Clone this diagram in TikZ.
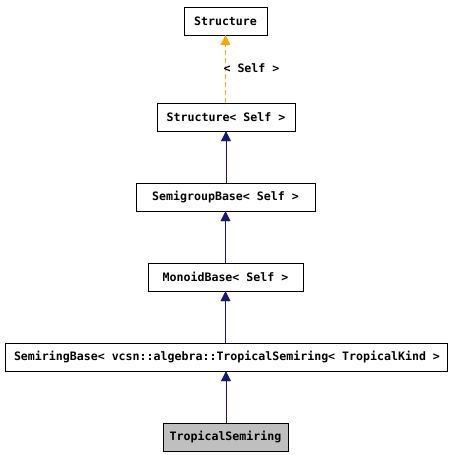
\documentclass[tikz,border=0pt]{standalone}
\usepackage{fontspec}
\setmonofont{DejaVu Sans Mono}
\usetikzlibrary{arrows.meta}
\definecolor{navy}{HTML}{191970}
\definecolor{inherit}{HTML}{FFA500}
\begin{document}
\begin{tikzpicture}[
  x=1pt, y=-1pt,
  cls/.style={draw, thin, minimum height=28pt, inner sep=0pt,
    font=\fontsize{11.6}{13}\selectfont\ttfamily\bfseries},
  isa/.style={draw=navy, thin, -{Triangle[length=10pt, width=10pt]}},
  tpl/.style={draw=inherit, line width=0.7pt, dash pattern=on 5pt off 3pt,
    -{Triangle[length=10pt, width=10pt]}},
  lbl/.style={font=\fontsize{11.6}{13}\selectfont\ttfamily\bfseries}
]
\useasboundingbox (0, 0) rectangle (450, 455);
\node[cls, minimum width=83pt] (struct) at (225.5, 21) {Structure};
\node[cls, minimum width=138pt] (structself) at (226, 117) {Structure< Self >};
\node[cls, minimum width=179pt] (semigroup) at (225.5, 197) {SemigroupBase< Self >};
\node[cls, minimum width=155pt] (monoid) at (225.5, 277) {MonoidBase< Self >};
\node[cls, minimum width=442pt] (semiring) at (226, 357) {};
\begin{scope}
  \clip (semiring.south west) rectangle (semiring.north east);
  \node[lbl, anchor=west, inner sep=0pt] (semiringtext) at ([xshift=9pt]semiring.west)
    {SemiringBase< vcsn::algebra::TropicalSemiring< TropicalKind > >};
\end{scope}
\node[cls, fill=black!25, minimum width=125pt] (tropical) at (225.5, 437) {TropicalSemiring};
\draw[tpl] (structself.north -| struct.south) -- (struct.south);
\node[lbl, anchor=west] (selfarg) at (220, 68) {< Self >};
\draw[isa] (semigroup.north -| structself.south) -- (structself.south);
\draw[isa] (monoid.north -| semigroup.south) -- (semigroup.south);
\draw[isa] (semiring.north -| monoid.south) -- (monoid.south);
\draw[isa] (tropical.north -| semiring.south) -- (semiring.south);
\end{tikzpicture}
\end{document}
